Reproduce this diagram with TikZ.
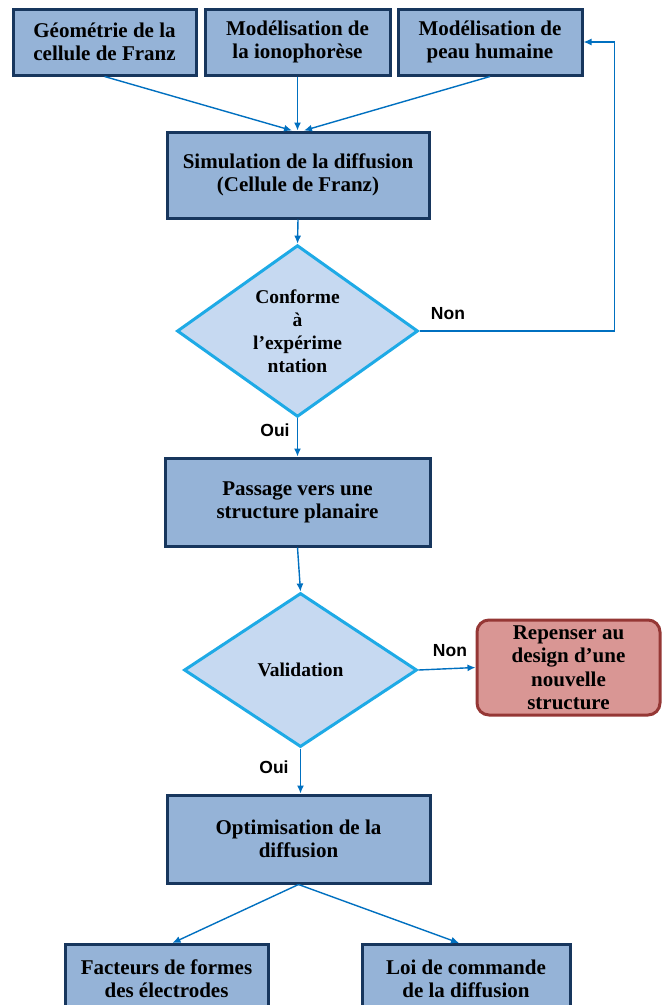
\documentclass[tikz,border=0pt]{standalone}
\usepackage{fontspec}
\setmainfont{Liberation Serif}
\newfontfamily\lblfont{Liberation Sans}
\usepackage{tikz}
\usetikzlibrary{positioning,arrows.meta,shapes.geometric}
\definecolor{boxfill}{RGB}{149,179,215}
\definecolor{boxline}{RGB}{23,54,93}
\definecolor{diafill}{RGB}{198,217,241}
\definecolor{dialine}{RGB}{30,170,230}
\definecolor{redfill}{RGB}{217,150,148}
\definecolor{redline}{RGB}{149,55,53}
\definecolor{arrblue}{RGB}{0,112,192}

\begin{document}
\begin{tikzpicture}[x=1pt,y=-1pt,
  box/.style={rectangle,draw=boxline,fill=boxfill,line width=3pt,align=center,
    inner sep=2pt,font=\fontsize{21}{23}\selectfont\bfseries},
  dia/.style={diamond,draw=dialine,fill=diafill,line width=3pt,align=center,
    inner sep=0pt,font=\fontsize{19.5}{23}\selectfont\bfseries},
  redo/.style={rectangle,rounded corners=12pt,draw=redline,fill=redfill,line width=3pt,
    align=center,inner sep=2pt,font=\fontsize{21}{23.5}\selectfont\bfseries},
  arr/.style={-{Latex[length=8pt,width=7pt]},draw=arrblue,line width=1.4pt},
  lbl/.style={font=\fontsize{17.5}{20}\selectfont\lblfont\bfseries}
]
\useasboundingbox (0,0) rectangle (662,1005);
\fill[white] (0,0) rectangle (662,1005);
% inputs
\node[box,minimum width=183,minimum height=66] (geo) at (104.5,42) {Géométrie de la\\cellule de Franz};
\node[box,minimum width=185,minimum height=66] (iono) at (297.5,42) {Modélisation de\\la ionophorèse};
\node[box,minimum width=184,minimum height=66] (skin) at (490,42) {Modélisation de\\peau humaine};
% main chain
\node[box,minimum width=262,minimum height=86] (sim) at (298,175) {Simulation de la diffusion\\(Cellule de Franz)};
\node[dia,minimum width=241,minimum height=158] (conf) at (297.5,331) {Conforme\\à\\l’expérime\\ntation};
\node[box,minimum width=265,minimum height=88] (plan) at (297.5,502) {Passage vers une\\structure planaire};
\node[dia,minimum width=233,minimum height=154] (valid) at (300.5,670) {Validation};
\node[redo,minimum width=183,minimum height=95] (redesign) at (568.5,667.5) {Repenser au\\design d’une\\nouvelle\\structure};
\node[box,minimum width=263,minimum height=88] (optim) at (298.5,839) {Optimisation de la\\diffusion};
\node[box,minimum width=203,minimum height=68,anchor=north] (elec) at (166.5,943) {Facteurs de formes\\des électrodes};
\node[box,minimum width=208,minimum height=68,anchor=north] (law) at (466,943) {Loi de commande\\de la diffusion};
% labels
\node[lbl] (non1) at (448,314) {Non};
\node[lbl] (oui1) at (275,430) {Oui};
\node[lbl] (non2) at (450,651) {Non};
\node[lbl] (oui2) at (274,767) {Oui};

\draw[arr] (geo.south) -- ([xshift=-6pt]sim.north);
\draw[arr] (iono.south) -- (iono.south |- sim.north);
\draw[arr] (skin.south) -- ([xshift=6pt]sim.north);
\draw[arr] (sim.south) -- (conf.north);
\draw[arr] (conf.east) -- ++(195,0) |- (skin.east);
\draw[arr] (conf.south) -- (plan.north);
\draw[arr] (plan.south) -- (valid.north);
\draw[arr] (valid.east) -- (redesign.west);
\draw[arr] (valid.south) -- (valid.south |- optim.north);
\draw[arr] (optim.south) -- ([xshift=6pt]elec.north);
\draw[arr] (optim.south) -- ([xshift=-7pt]law.north);
\end{tikzpicture}
\end{document}
